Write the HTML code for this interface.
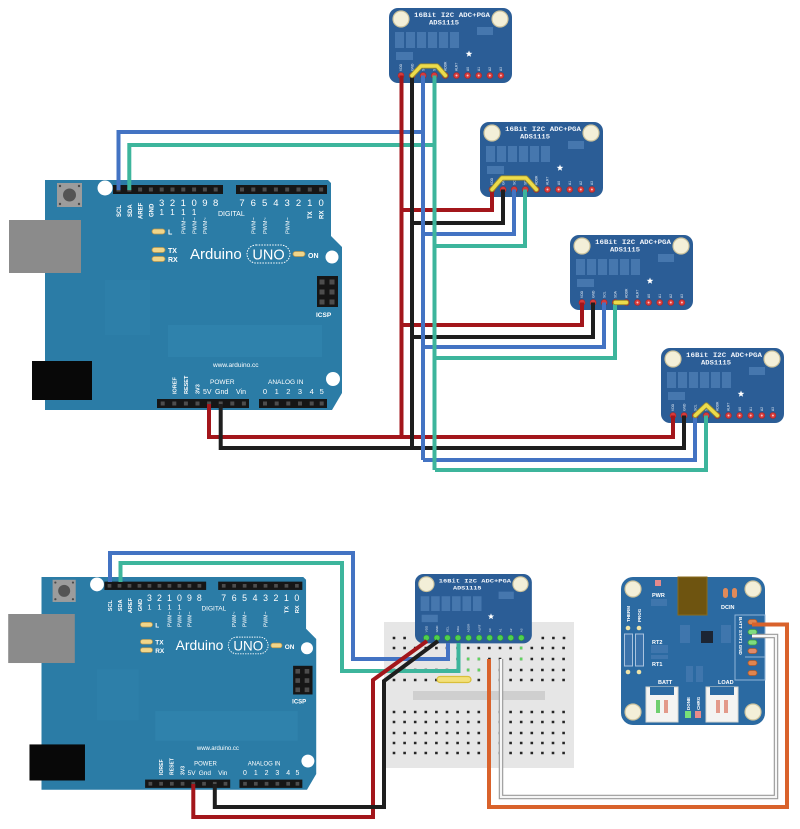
<!DOCTYPE html>
<html><head><meta charset="utf-8"><style>
html,body{margin:0;padding:0;background:#fff}
svg{display:block}
.t{font-family:"Liberation Sans",sans-serif;fill:#fff;font-weight:bold}
.m{font-family:"Liberation Mono",monospace;fill:#eef3fa;font-weight:bold}
.w{fill:none;stroke-width:4;stroke-linejoin:miter}
.r{stroke:#a3161b}.k{stroke:#1e1e1e}.b{stroke:#4373c3}.g{stroke:#3db59c}
</style></head><body>
<svg width="800" height="829" viewBox="0 0 800 829" xmlns="http://www.w3.org/2000/svg">
<rect width="800" height="829" fill="#fff"/>

<!-- ================= TOP ARDUINO ================= -->
<g>
<path d="M45,180H328L331,183V236L342,247V393L332,410H45Z" fill="#2b7ca6"/>
<rect x="168" y="325" width="154" height="32" fill="#2f82ac"/>
<rect x="105" y="280" width="45" height="55" fill="#2d7fa9"/>
<rect x="9" y="220" width="72" height="53" fill="#8b8b8b"/>
<rect x="32" y="361" width="60" height="39" fill="#080808"/>
<rect x="57" y="183" width="25" height="24" fill="#9c9c9c"/>
<circle cx="69.5" cy="195" r="6.5" fill="#545454"/>
<g fill="#4a4a4a"><circle cx="60" cy="186" r="1.2"/><circle cx="79" cy="186" r="1.2"/><circle cx="60" cy="204" r="1.2"/><circle cx="79" cy="204" r="1.2"/></g>
<g fill="#fff"><circle cx="105" cy="188" r="7.5"/><circle cx="332" cy="257" r="6.5"/><circle cx="333" cy="379" r="7"/></g>
<g fill="#161616"><rect x="113" y="185" width="110" height="9"/><rect x="236" y="185" width="91" height="9"/><rect x="157" y="399" width="92" height="9"/><rect x="259" y="399" width="68" height="9"/><rect x="317" y="276" width="21" height="31"/></g>
<path fill="#4d4d4d" d="M116.5,187.5h4v4h-4zM127.3,187.5h4v4h-4zM138.1,187.5h4v4h-4zM148.9,187.5h4v4h-4zM159.7,187.5h4v4h-4zM170.5,187.5h4v4h-4zM181.3,187.5h4v4h-4zM192.1,187.5h4v4h-4zM202.9,187.5h4v4h-4zM213.7,187.5h4v4h-4z
M240,187.5h4v4h-4zM251.3,187.5h4v4h-4zM262.6,187.5h4v4h-4zM273.9,187.5h4v4h-4zM285.2,187.5h4v4h-4zM296.5,187.5h4v4h-4zM307.8,187.5h4v4h-4zM319.1,187.5h4v4h-4z
M160.7,401.5h4v4h-4zM172.3,401.5h4v4h-4zM183.9,401.5h4v4h-4zM195.5,401.5h4v4h-4zM207.1,401.5h4v4h-4zM218.7,401.5h4v4h-4zM230.3,401.5h4v4h-4zM241.9,401.5h4v4h-4z
M263,401.5h4v4h-4zM274.7,401.5h4v4h-4zM286.3,401.5h4v4h-4zM298,401.5h4v4h-4zM309.7,401.5h4v4h-4zM319.7,401.5h4v4h-4z
M319.5,279.5h5v5h-5zM329.5,279.5h5v5h-5zM319.5,289.5h5v5h-5zM329.5,289.5h5v5h-5zM319.5,299.5h5v5h-5zM329.5,299.5h5v5h-5z"/>
<g class="t">
<text font-size="6" transform="translate(121,217) rotate(-90)">SCL</text>
<text font-size="6" transform="translate(131.8,217) rotate(-90)">SDA</text>
<text font-size="6" transform="translate(142.6,219) rotate(-90)">AREF</text>
<text font-size="6" transform="translate(153.4,217) rotate(-90)">GND</text>
<g font-size="9.5" text-anchor="middle" font-weight="normal"><text x="161.7" y="206">3</text><text x="172.5" y="206">2</text><text x="183.3" y="206">1</text><text x="194.1" y="206">0</text><text x="204.9" y="206">9</text><text x="215.7" y="206">8</text>
<text x="242" y="206">7</text><text x="253.3" y="206">6</text><text x="264.6" y="206">5</text><text x="275.9" y="206">4</text><text x="287.2" y="206">3</text><text x="298.5" y="206">2</text><text x="309.8" y="206">1</text><text x="321.1" y="206">0</text></g>
<g font-size="8" text-anchor="middle" font-weight="normal"><text x="161.7" y="215">1</text><text x="172.5" y="215">1</text><text x="183.3" y="215">1</text><text x="194.1" y="215">1</text></g>
<text x="218" y="216" font-size="7" font-weight="normal">DIGITAL</text>
<text font-size="6" transform="translate(312,219) rotate(-90)">TX</text>
<text font-size="6" transform="translate(323.4,219) rotate(-90)">RX</text>
<g font-size="5.5" font-weight="normal"><text transform="translate(185.5,234) rotate(-90)">PWM~</text><text transform="translate(196.3,234) rotate(-90)">PWM~</text><text transform="translate(207.1,234) rotate(-90)">PWM~</text><text transform="translate(255.5,234) rotate(-90)">PWM~</text><text transform="translate(266.8,234) rotate(-90)">PWM~</text><text transform="translate(289.4,234) rotate(-90)">PWM~</text></g>
<text x="168" y="234.5" font-size="7">L</text>
<text x="168" y="253" font-size="7">TX</text>
<text x="168" y="262" font-size="7">RX</text>
<text x="190" y="259" font-size="15" font-weight="normal">Arduino</text>
<text x="268.5" y="259.5" font-size="14.5" font-weight="normal" text-anchor="middle">UNO</text>
<text x="308" y="258" font-size="7">ON</text>
<text x="316" y="317" font-size="6.5">ICSP</text>
<text x="213" y="367" font-size="6.5" font-weight="normal">www.arduino.cc</text>
<text font-size="5.5" transform="translate(176.3,394) rotate(-90)">IOREF</text>
<text font-size="5.5" transform="translate(187.9,394) rotate(-90)">RESET</text>
<text font-size="5.5" transform="translate(199.5,394) rotate(-90)">3V3</text>
<text x="210" y="384" font-size="6.5" font-weight="normal">POWER</text>
<text x="203" y="394" font-size="7" font-weight="normal">5V</text>
<text x="215" y="394" font-size="7" font-weight="normal">Gnd</text>
<text x="236" y="394" font-size="7" font-weight="normal">Vin</text>
<text x="268" y="384" font-size="6.5" font-weight="normal">ANALOG IN</text>
<g font-size="7.5" text-anchor="middle" font-weight="normal"><text x="265" y="394">0</text><text x="276.7" y="394">1</text><text x="288.3" y="394">2</text><text x="300" y="394">3</text><text x="311.7" y="394">4</text><text x="321.7" y="394">5</text></g>
</g>
<rect x="247" y="245" width="43" height="18" rx="9" fill="none" stroke="#fff" stroke-width="1" stroke-dasharray="1.5 1.2"/>
<g fill="#f1d68a" stroke="#b8964e" stroke-width="0.8"><rect x="152" y="229" width="13" height="5" rx="2.5"/><rect x="152" y="247.5" width="13" height="5" rx="2.5"/><rect x="152" y="256.5" width="13" height="5" rx="2.5"/><rect x="293" y="251.5" width="12" height="5" rx="2.5"/></g>
</g>

<!-- ================= BOTTOM ARDUINO ================= -->
<g transform="translate(41.5,577) scale(0.925) translate(-45,-180)">
<path d="M45,180H328L331,183V236L342,247V393L332,410H45Z" fill="#2b7ca6"/>
<rect x="168" y="325" width="154" height="32" fill="#2f82ac"/>
<rect x="105" y="280" width="45" height="55" fill="#2d7fa9"/>
<rect x="9" y="220" width="72" height="53" fill="#8b8b8b"/>
<rect x="32" y="361" width="60" height="39" fill="#080808"/>
<rect x="57" y="183" width="25" height="24" fill="#9c9c9c"/>
<circle cx="69.5" cy="195" r="6.5" fill="#545454"/>
<g fill="#4a4a4a"><circle cx="60" cy="186" r="1.2"/><circle cx="79" cy="186" r="1.2"/><circle cx="60" cy="204" r="1.2"/><circle cx="79" cy="204" r="1.2"/></g>
<g fill="#fff"><circle cx="105" cy="188" r="7.5"/><circle cx="332" cy="257" r="6.5"/><circle cx="333" cy="379" r="7"/></g>
<g fill="#161616"><rect x="113" y="185" width="110" height="9"/><rect x="236" y="185" width="91" height="9"/><rect x="157" y="399" width="92" height="9"/><rect x="259" y="399" width="68" height="9"/><rect x="317" y="276" width="21" height="31"/></g>
<path fill="#4d4d4d" d="M116.5,187.5h4v4h-4zM127.3,187.5h4v4h-4zM138.1,187.5h4v4h-4zM148.9,187.5h4v4h-4zM159.7,187.5h4v4h-4zM170.5,187.5h4v4h-4zM181.3,187.5h4v4h-4zM192.1,187.5h4v4h-4zM202.9,187.5h4v4h-4zM213.7,187.5h4v4h-4z
M240,187.5h4v4h-4zM251.3,187.5h4v4h-4zM262.6,187.5h4v4h-4zM273.9,187.5h4v4h-4zM285.2,187.5h4v4h-4zM296.5,187.5h4v4h-4zM307.8,187.5h4v4h-4zM319.1,187.5h4v4h-4z
M160.7,401.5h4v4h-4zM172.3,401.5h4v4h-4zM183.9,401.5h4v4h-4zM195.5,401.5h4v4h-4zM207.1,401.5h4v4h-4zM218.7,401.5h4v4h-4zM230.3,401.5h4v4h-4zM241.9,401.5h4v4h-4z
M263,401.5h4v4h-4zM274.7,401.5h4v4h-4zM286.3,401.5h4v4h-4zM298,401.5h4v4h-4zM309.7,401.5h4v4h-4zM319.7,401.5h4v4h-4z
M319.5,279.5h5v5h-5zM329.5,279.5h5v5h-5zM319.5,289.5h5v5h-5zM329.5,289.5h5v5h-5zM319.5,299.5h5v5h-5zM329.5,299.5h5v5h-5z"/>
<g class="t">
<text font-size="6" transform="translate(121,217) rotate(-90)">SCL</text>
<text font-size="6" transform="translate(131.8,217) rotate(-90)">SDA</text>
<text font-size="6" transform="translate(142.6,219) rotate(-90)">AREF</text>
<text font-size="6" transform="translate(153.4,217) rotate(-90)">GND</text>
<g font-size="9.5" text-anchor="middle" font-weight="normal"><text x="161.7" y="206">3</text><text x="172.5" y="206">2</text><text x="183.3" y="206">1</text><text x="194.1" y="206">0</text><text x="204.9" y="206">9</text><text x="215.7" y="206">8</text>
<text x="242" y="206">7</text><text x="253.3" y="206">6</text><text x="264.6" y="206">5</text><text x="275.9" y="206">4</text><text x="287.2" y="206">3</text><text x="298.5" y="206">2</text><text x="309.8" y="206">1</text><text x="321.1" y="206">0</text></g>
<g font-size="8" text-anchor="middle" font-weight="normal"><text x="161.7" y="215">1</text><text x="172.5" y="215">1</text><text x="183.3" y="215">1</text><text x="194.1" y="215">1</text></g>
<text x="218" y="216" font-size="7" font-weight="normal">DIGITAL</text>
<text font-size="6" transform="translate(312,219) rotate(-90)">TX</text>
<text font-size="6" transform="translate(323.4,219) rotate(-90)">RX</text>
<g font-size="5.5" font-weight="normal"><text transform="translate(185.5,234) rotate(-90)">PWM~</text><text transform="translate(196.3,234) rotate(-90)">PWM~</text><text transform="translate(207.1,234) rotate(-90)">PWM~</text><text transform="translate(255.5,234) rotate(-90)">PWM~</text><text transform="translate(266.8,234) rotate(-90)">PWM~</text><text transform="translate(289.4,234) rotate(-90)">PWM~</text></g>
<text x="168" y="234.5" font-size="7">L</text>
<text x="168" y="253" font-size="7">TX</text>
<text x="168" y="262" font-size="7">RX</text>
<text x="190" y="259" font-size="15" font-weight="normal">Arduino</text>
<text x="268.5" y="259.5" font-size="14.5" font-weight="normal" text-anchor="middle">UNO</text>
<text x="308" y="258" font-size="7">ON</text>
<text x="316" y="317" font-size="6.5">ICSP</text>
<text x="213" y="367" font-size="6.5" font-weight="normal">www.arduino.cc</text>
<text font-size="5.5" transform="translate(176.3,394) rotate(-90)">IOREF</text>
<text font-size="5.5" transform="translate(187.9,394) rotate(-90)">RESET</text>
<text font-size="5.5" transform="translate(199.5,394) rotate(-90)">3V3</text>
<text x="210" y="384" font-size="6.5" font-weight="normal">POWER</text>
<text x="203" y="394" font-size="7" font-weight="normal">5V</text>
<text x="215" y="394" font-size="7" font-weight="normal">Gnd</text>
<text x="236" y="394" font-size="7" font-weight="normal">Vin</text>
<text x="268" y="384" font-size="6.5" font-weight="normal">ANALOG IN</text>
<g font-size="7.5" text-anchor="middle" font-weight="normal"><text x="265" y="394">0</text><text x="276.7" y="394">1</text><text x="288.3" y="394">2</text><text x="300" y="394">3</text><text x="311.7" y="394">4</text><text x="321.7" y="394">5</text></g>
</g>
<rect x="247" y="245" width="43" height="18" rx="9" fill="none" stroke="#fff" stroke-width="1" stroke-dasharray="1.5 1.2"/>
<g fill="#f1d68a" stroke="#b8964e" stroke-width="0.8"><rect x="152" y="229" width="13" height="5" rx="2.5"/><rect x="152" y="247.5" width="13" height="5" rx="2.5"/><rect x="152" y="256.5" width="13" height="5" rx="2.5"/><rect x="293" y="251.5" width="12" height="5" rx="2.5"/></g>
</g>

<!-- ================= ADS BOARDS (top) ================= -->
<g transform="translate(389,8)">
<rect width="123" height="75" rx="9" fill="#2b5d96"/>
<circle cx="12" cy="11" r="8" fill="#f3efd8" stroke="#cbc29c" stroke-width="1.2"/><circle cx="111" cy="11" r="8" fill="#f3efd8" stroke="#cbc29c" stroke-width="1.2"/>
<text x="25" y="9" class="m" font-size="6.2" textLength="76" lengthAdjust="spacingAndGlyphs">16Bit I2C ADC+PGA</text>
<text x="40" y="16.5" class="m" font-size="6.2" textLength="30" lengthAdjust="spacingAndGlyphs">ADS1115</text>
<path fill="#4677ae" d="M6,24h9v16h-9zM17,24h9v16h-9zM28,24h9v16h-9zM39,24h9v16h-9zM50,24h9v16h-9zM61,24h9v16h-9zM7,44h17v8h-17zM88,19h16v8h-16z"/>
<polygon fill="#fff" points="80,42.5 80.9,44.8 83.3,44.9 81.4,46.5 82.1,48.8 80,47.5 77.9,48.8 78.6,46.5 76.7,44.9 79.1,44.8"/>
<g fill="#dfe8f3" font-family="Liberation Sans,sans-serif" font-size="3.3"><text transform="translate(13.2,63) rotate(-90)">VDD</text><text transform="translate(24.3,63) rotate(-90)">GND</text><text transform="translate(35.4,63) rotate(-90)">SCL</text><text transform="translate(46.5,63) rotate(-90)">SDA</text><text transform="translate(57.6,63) rotate(-90)">ADDR</text><text transform="translate(68.7,63) rotate(-90)">ALRT</text><text transform="translate(79.8,63) rotate(-90)">A0</text><text transform="translate(90.9,63) rotate(-90)">A1</text><text transform="translate(102,63) rotate(-90)">A2</text><text transform="translate(113.1,63) rotate(-90)">A3</text></g>
<g fill="#d83b3b" stroke="#a82828" stroke-width="0.6"><circle cx="12" cy="67.5" r="3"/><circle cx="23.1" cy="67.5" r="3"/><circle cx="34.2" cy="67.5" r="3"/><circle cx="45.3" cy="67.5" r="3"/><circle cx="56.4" cy="67.5" r="3"/><circle cx="67.5" cy="67.5" r="3"/><circle cx="78.6" cy="67.5" r="3"/><circle cx="89.7" cy="67.5" r="3"/><circle cx="100.8" cy="67.5" r="3"/><circle cx="111.9" cy="67.5" r="3"/></g>
<g fill="#f7c7c7"><circle cx="67.5" cy="67.5" r="1"/><circle cx="78.6" cy="67.5" r="1"/><circle cx="89.7" cy="67.5" r="1"/><circle cx="100.8" cy="67.5" r="1"/><circle cx="111.9" cy="67.5" r="1"/></g>
</g>

<g transform="translate(480,122)">
<rect width="123" height="75" rx="9" fill="#2b5d96"/>
<circle cx="12" cy="11" r="8" fill="#f3efd8" stroke="#cbc29c" stroke-width="1.2"/><circle cx="111" cy="11" r="8" fill="#f3efd8" stroke="#cbc29c" stroke-width="1.2"/>
<text x="25" y="9" class="m" font-size="6.2" textLength="76" lengthAdjust="spacingAndGlyphs">16Bit I2C ADC+PGA</text>
<text x="40" y="16.5" class="m" font-size="6.2" textLength="30" lengthAdjust="spacingAndGlyphs">ADS1115</text>
<path fill="#4677ae" d="M6,24h9v16h-9zM17,24h9v16h-9zM28,24h9v16h-9zM39,24h9v16h-9zM50,24h9v16h-9zM61,24h9v16h-9zM7,44h17v8h-17zM88,19h16v8h-16z"/>
<polygon fill="#fff" points="80,42.5 80.9,44.8 83.3,44.9 81.4,46.5 82.1,48.8 80,47.5 77.9,48.8 78.6,46.5 76.7,44.9 79.1,44.8"/>
<g fill="#dfe8f3" font-family="Liberation Sans,sans-serif" font-size="3.3"><text transform="translate(13.2,63) rotate(-90)">VDD</text><text transform="translate(24.3,63) rotate(-90)">GND</text><text transform="translate(35.4,63) rotate(-90)">SCL</text><text transform="translate(46.5,63) rotate(-90)">SDA</text><text transform="translate(57.6,63) rotate(-90)">ADDR</text><text transform="translate(68.7,63) rotate(-90)">ALRT</text><text transform="translate(79.8,63) rotate(-90)">A0</text><text transform="translate(90.9,63) rotate(-90)">A1</text><text transform="translate(102,63) rotate(-90)">A2</text><text transform="translate(113.1,63) rotate(-90)">A3</text></g>
<g fill="#d83b3b" stroke="#a82828" stroke-width="0.6"><circle cx="12" cy="67.5" r="3"/><circle cx="23.1" cy="67.5" r="3"/><circle cx="34.2" cy="67.5" r="3"/><circle cx="45.3" cy="67.5" r="3"/><circle cx="56.4" cy="67.5" r="3"/><circle cx="67.5" cy="67.5" r="3"/><circle cx="78.6" cy="67.5" r="3"/><circle cx="89.7" cy="67.5" r="3"/><circle cx="100.8" cy="67.5" r="3"/><circle cx="111.9" cy="67.5" r="3"/></g>
<g fill="#f7c7c7"><circle cx="67.5" cy="67.5" r="1"/><circle cx="78.6" cy="67.5" r="1"/><circle cx="89.7" cy="67.5" r="1"/><circle cx="100.8" cy="67.5" r="1"/><circle cx="111.9" cy="67.5" r="1"/></g>
</g>

<g transform="translate(570,235)">
<rect width="123" height="75" rx="9" fill="#2b5d96"/>
<circle cx="12" cy="11" r="8" fill="#f3efd8" stroke="#cbc29c" stroke-width="1.2"/><circle cx="111" cy="11" r="8" fill="#f3efd8" stroke="#cbc29c" stroke-width="1.2"/>
<text x="25" y="9" class="m" font-size="6.2" textLength="76" lengthAdjust="spacingAndGlyphs">16Bit I2C ADC+PGA</text>
<text x="40" y="16.5" class="m" font-size="6.2" textLength="30" lengthAdjust="spacingAndGlyphs">ADS1115</text>
<path fill="#4677ae" d="M6,24h9v16h-9zM17,24h9v16h-9zM28,24h9v16h-9zM39,24h9v16h-9zM50,24h9v16h-9zM61,24h9v16h-9zM7,44h17v8h-17zM88,19h16v8h-16z"/>
<polygon fill="#fff" points="80,42.5 80.9,44.8 83.3,44.9 81.4,46.5 82.1,48.8 80,47.5 77.9,48.8 78.6,46.5 76.7,44.9 79.1,44.8"/>
<g fill="#dfe8f3" font-family="Liberation Sans,sans-serif" font-size="3.3"><text transform="translate(13.2,63) rotate(-90)">VDD</text><text transform="translate(24.3,63) rotate(-90)">GND</text><text transform="translate(35.4,63) rotate(-90)">SCL</text><text transform="translate(46.5,63) rotate(-90)">SDA</text><text transform="translate(57.6,63) rotate(-90)">ADDR</text><text transform="translate(68.7,63) rotate(-90)">ALRT</text><text transform="translate(79.8,63) rotate(-90)">A0</text><text transform="translate(90.9,63) rotate(-90)">A1</text><text transform="translate(102,63) rotate(-90)">A2</text><text transform="translate(113.1,63) rotate(-90)">A3</text></g>
<g fill="#d83b3b" stroke="#a82828" stroke-width="0.6"><circle cx="12" cy="67.5" r="3"/><circle cx="23.1" cy="67.5" r="3"/><circle cx="34.2" cy="67.5" r="3"/><circle cx="45.3" cy="67.5" r="3"/><circle cx="56.4" cy="67.5" r="3"/><circle cx="67.5" cy="67.5" r="3"/><circle cx="78.6" cy="67.5" r="3"/><circle cx="89.7" cy="67.5" r="3"/><circle cx="100.8" cy="67.5" r="3"/><circle cx="111.9" cy="67.5" r="3"/></g>
<g fill="#f7c7c7"><circle cx="67.5" cy="67.5" r="1"/><circle cx="78.6" cy="67.5" r="1"/><circle cx="89.7" cy="67.5" r="1"/><circle cx="100.8" cy="67.5" r="1"/><circle cx="111.9" cy="67.5" r="1"/></g>
</g>

<g transform="translate(661,348)">
<rect width="123" height="75" rx="9" fill="#2b5d96"/>
<circle cx="12" cy="11" r="8" fill="#f3efd8" stroke="#cbc29c" stroke-width="1.2"/><circle cx="111" cy="11" r="8" fill="#f3efd8" stroke="#cbc29c" stroke-width="1.2"/>
<text x="25" y="9" class="m" font-size="6.2" textLength="76" lengthAdjust="spacingAndGlyphs">16Bit I2C ADC+PGA</text>
<text x="40" y="16.5" class="m" font-size="6.2" textLength="30" lengthAdjust="spacingAndGlyphs">ADS1115</text>
<path fill="#4677ae" d="M6,24h9v16h-9zM17,24h9v16h-9zM28,24h9v16h-9zM39,24h9v16h-9zM50,24h9v16h-9zM61,24h9v16h-9zM7,44h17v8h-17zM88,19h16v8h-16z"/>
<polygon fill="#fff" points="80,42.5 80.9,44.8 83.3,44.9 81.4,46.5 82.1,48.8 80,47.5 77.9,48.8 78.6,46.5 76.7,44.9 79.1,44.8"/>
<g fill="#dfe8f3" font-family="Liberation Sans,sans-serif" font-size="3.3"><text transform="translate(13.2,63) rotate(-90)">VDD</text><text transform="translate(24.3,63) rotate(-90)">GND</text><text transform="translate(35.4,63) rotate(-90)">SCL</text><text transform="translate(46.5,63) rotate(-90)">SDA</text><text transform="translate(57.6,63) rotate(-90)">ADDR</text><text transform="translate(68.7,63) rotate(-90)">ALRT</text><text transform="translate(79.8,63) rotate(-90)">A0</text><text transform="translate(90.9,63) rotate(-90)">A1</text><text transform="translate(102,63) rotate(-90)">A2</text><text transform="translate(113.1,63) rotate(-90)">A3</text></g>
<g fill="#d83b3b" stroke="#a82828" stroke-width="0.6"><circle cx="12" cy="67.5" r="3"/><circle cx="23.1" cy="67.5" r="3"/><circle cx="34.2" cy="67.5" r="3"/><circle cx="45.3" cy="67.5" r="3"/><circle cx="56.4" cy="67.5" r="3"/><circle cx="67.5" cy="67.5" r="3"/><circle cx="78.6" cy="67.5" r="3"/><circle cx="89.7" cy="67.5" r="3"/><circle cx="100.8" cy="67.5" r="3"/><circle cx="111.9" cy="67.5" r="3"/></g>
<g fill="#f7c7c7"><circle cx="67.5" cy="67.5" r="1"/><circle cx="78.6" cy="67.5" r="1"/><circle cx="89.7" cy="67.5" r="1"/><circle cx="100.8" cy="67.5" r="1"/><circle cx="111.9" cy="67.5" r="1"/></g>
</g>

<!-- ================= TOP WIRES ================= -->
<g>
<path class="w r" d="M402,210H492V189.5"/>
<path class="w k" d="M412,223H503V189.5"/>
<path class="w b" d="M423,234H514V189.5"/>
<path class="w g" d="M435,246H525V189.5"/>
<path class="w r" d="M402,325H582V302.5"/>
<path class="w k" d="M412,337H593V302.5"/>
<path class="w b" d="M423,347H604V302.5"/>
<path class="w g" d="M435,358H615V302.5"/>
<path class="w r" d="M209,404V437H673V415.5"/>
<path class="w k" d="M220.7,404V448H684V415.5"/>
<path class="w b" d="M423,460H695V415.5"/>
<path class="w g" d="M435,470H706V415.5"/>
<path class="w b" d="M118.5,190V132H423"/>
<path class="w g" d="M129.3,190V145H435"/>
<path class="w r" d="M401.5,75.5V437"/>
<path class="w k" d="M412,75.5V448"/>
<path class="w b" d="M423,75.5V460"/>
<path class="w g" d="M434.5,75.5V470"/>
</g>
<!-- jumpers -->
<g fill="none" stroke-linejoin="round" stroke-linecap="round">
<g stroke="#9a8a2a" stroke-width="5.2">
<polyline points="412,75.5 421,66 437,66 445.4,75.5"/>
<polyline points="492,189.5 502,178 526,178 536.4,189.5"/>
<line x1="615.3" y1="302.5" x2="626.4" y2="302.5"/>
<polyline points="695.2,415.5 706.3,405 717.4,415.5"/>
</g>
<g stroke="#ecdc4c" stroke-width="3.4">
<polyline points="412,75.5 421,66 437,66 445.4,75.5"/>
<polyline points="492,189.5 502,178 526,178 536.4,189.5"/>
<line x1="615.3" y1="302.5" x2="626.4" y2="302.5"/>
<polyline points="695.2,415.5 706.3,405 717.4,415.5"/>
</g>
</g>

<!-- ================= BREADBOARD ================= -->
<rect x="384" y="622" width="190" height="146" fill="#e6e6e6"/>
<rect x="413" y="691" width="132" height="9" fill="#cfcfcf"/>
<g fill="#222">
<path d="M392.7,636.7h2.6v2.6h-2.6zM403.3,636.7h2.6v2.6h-2.6zM541.5,636.7h2.6v2.6h-2.6zM552.1,636.7h2.6v2.6h-2.6zM562.7,636.7h2.6v2.6h-2.6z"/>
</g>
<g fill="#252525">
<path d="M392.7,646.7h2.6v2.6h-2.6zM403.3,646.7h2.6v2.6h-2.6zM413.9,646.7h2.6v2.6h-2.6zM424.5,646.7h2.6v2.6h-2.6zM435.1,646.7h2.6v2.6h-2.6zM445.7,646.7h2.6v2.6h-2.6zM456.3,646.7h2.6v2.6h-2.6zM466.9,646.7h2.6v2.6h-2.6zM477.5,646.7h2.6v2.6h-2.6zM488.1,646.7h2.6v2.6h-2.6zM498.7,646.7h2.6v2.6h-2.6zM509.3,646.7h2.6v2.6h-2.6zM519.9,646.7h2.6v2.6h-2.6zM530.5,646.7h2.6v2.6h-2.6zM541.1,646.7h2.6v2.6h-2.6zM551.7,646.7h2.6v2.6h-2.6zM562.3,646.7h2.6v2.6h-2.6z"/>
<path d="M392.7,657.7h2.6v2.6h-2.6zM403.3,657.7h2.6v2.6h-2.6zM413.9,657.7h2.6v2.6h-2.6zM424.5,657.7h2.6v2.6h-2.6zM435.1,657.7h2.6v2.6h-2.6zM445.7,657.7h2.6v2.6h-2.6zM456.3,657.7h2.6v2.6h-2.6zM466.9,657.7h2.6v2.6h-2.6zM477.5,657.7h2.6v2.6h-2.6zM488.1,657.7h2.6v2.6h-2.6zM498.7,657.7h2.6v2.6h-2.6zM509.3,657.7h2.6v2.6h-2.6zM519.9,657.7h2.6v2.6h-2.6zM530.5,657.7h2.6v2.6h-2.6zM541.1,657.7h2.6v2.6h-2.6zM551.7,657.7h2.6v2.6h-2.6zM562.3,657.7h2.6v2.6h-2.6z"/>
<path d="M392.7,668.7h2.6v2.6h-2.6zM403.3,668.7h2.6v2.6h-2.6zM413.9,668.7h2.6v2.6h-2.6zM424.5,668.7h2.6v2.6h-2.6zM435.1,668.7h2.6v2.6h-2.6zM445.7,668.7h2.6v2.6h-2.6zM456.3,668.7h2.6v2.6h-2.6zM466.9,668.7h2.6v2.6h-2.6zM477.5,668.7h2.6v2.6h-2.6zM488.1,668.7h2.6v2.6h-2.6zM498.7,668.7h2.6v2.6h-2.6zM509.3,668.7h2.6v2.6h-2.6zM519.9,668.7h2.6v2.6h-2.6zM530.5,668.7h2.6v2.6h-2.6zM541.1,668.7h2.6v2.6h-2.6zM551.7,668.7h2.6v2.6h-2.6zM562.3,668.7h2.6v2.6h-2.6z"/>
<path d="M392.7,678.7h2.6v2.6h-2.6zM403.3,678.7h2.6v2.6h-2.6zM413.9,678.7h2.6v2.6h-2.6zM424.5,678.7h2.6v2.6h-2.6zM435.1,678.7h2.6v2.6h-2.6zM445.7,678.7h2.6v2.6h-2.6zM456.3,678.7h2.6v2.6h-2.6zM466.9,678.7h2.6v2.6h-2.6zM477.5,678.7h2.6v2.6h-2.6zM488.1,678.7h2.6v2.6h-2.6zM498.7,678.7h2.6v2.6h-2.6zM509.3,678.7h2.6v2.6h-2.6zM519.9,678.7h2.6v2.6h-2.6zM530.5,678.7h2.6v2.6h-2.6zM541.1,678.7h2.6v2.6h-2.6zM551.7,678.7h2.6v2.6h-2.6zM562.3,678.7h2.6v2.6h-2.6z"/>
<path d="M392.7,710.7h2.6v2.6h-2.6zM403.3,710.7h2.6v2.6h-2.6zM413.9,710.7h2.6v2.6h-2.6zM424.5,710.7h2.6v2.6h-2.6zM435.1,710.7h2.6v2.6h-2.6zM445.7,710.7h2.6v2.6h-2.6zM456.3,710.7h2.6v2.6h-2.6zM466.9,710.7h2.6v2.6h-2.6zM477.5,710.7h2.6v2.6h-2.6zM488.1,710.7h2.6v2.6h-2.6zM498.7,710.7h2.6v2.6h-2.6zM509.3,710.7h2.6v2.6h-2.6zM519.9,710.7h2.6v2.6h-2.6zM530.5,710.7h2.6v2.6h-2.6zM541.1,710.7h2.6v2.6h-2.6zM551.7,710.7h2.6v2.6h-2.6zM562.3,710.7h2.6v2.6h-2.6z"/>
<path d="M392.7,720.7h2.6v2.6h-2.6zM403.3,720.7h2.6v2.6h-2.6zM413.9,720.7h2.6v2.6h-2.6zM424.5,720.7h2.6v2.6h-2.6zM435.1,720.7h2.6v2.6h-2.6zM445.7,720.7h2.6v2.6h-2.6zM456.3,720.7h2.6v2.6h-2.6zM466.9,720.7h2.6v2.6h-2.6zM477.5,720.7h2.6v2.6h-2.6zM488.1,720.7h2.6v2.6h-2.6zM498.7,720.7h2.6v2.6h-2.6zM509.3,720.7h2.6v2.6h-2.6zM519.9,720.7h2.6v2.6h-2.6zM530.5,720.7h2.6v2.6h-2.6zM541.1,720.7h2.6v2.6h-2.6zM551.7,720.7h2.6v2.6h-2.6zM562.3,720.7h2.6v2.6h-2.6z"/>
<path d="M392.7,731.7h2.6v2.6h-2.6zM403.3,731.7h2.6v2.6h-2.6zM413.9,731.7h2.6v2.6h-2.6zM424.5,731.7h2.6v2.6h-2.6zM435.1,731.7h2.6v2.6h-2.6zM445.7,731.7h2.6v2.6h-2.6zM456.3,731.7h2.6v2.6h-2.6zM466.9,731.7h2.6v2.6h-2.6zM477.5,731.7h2.6v2.6h-2.6zM488.1,731.7h2.6v2.6h-2.6zM498.7,731.7h2.6v2.6h-2.6zM509.3,731.7h2.6v2.6h-2.6zM519.9,731.7h2.6v2.6h-2.6zM530.5,731.7h2.6v2.6h-2.6zM541.1,731.7h2.6v2.6h-2.6zM551.7,731.7h2.6v2.6h-2.6zM562.3,731.7h2.6v2.6h-2.6z"/>
<path d="M392.7,741.7h2.6v2.6h-2.6zM403.3,741.7h2.6v2.6h-2.6zM413.9,741.7h2.6v2.6h-2.6zM424.5,741.7h2.6v2.6h-2.6zM435.1,741.7h2.6v2.6h-2.6zM445.7,741.7h2.6v2.6h-2.6zM456.3,741.7h2.6v2.6h-2.6zM466.9,741.7h2.6v2.6h-2.6zM477.5,741.7h2.6v2.6h-2.6zM488.1,741.7h2.6v2.6h-2.6zM498.7,741.7h2.6v2.6h-2.6zM509.3,741.7h2.6v2.6h-2.6zM519.9,741.7h2.6v2.6h-2.6zM530.5,741.7h2.6v2.6h-2.6zM541.1,741.7h2.6v2.6h-2.6zM551.7,741.7h2.6v2.6h-2.6zM562.3,741.7h2.6v2.6h-2.6z"/>
<path d="M392.7,751.7h2.6v2.6h-2.6zM403.3,751.7h2.6v2.6h-2.6zM413.9,751.7h2.6v2.6h-2.6zM424.5,751.7h2.6v2.6h-2.6zM435.1,751.7h2.6v2.6h-2.6zM445.7,751.7h2.6v2.6h-2.6zM456.3,751.7h2.6v2.6h-2.6zM466.9,751.7h2.6v2.6h-2.6zM477.5,751.7h2.6v2.6h-2.6zM488.1,751.7h2.6v2.6h-2.6zM498.7,751.7h2.6v2.6h-2.6zM509.3,751.7h2.6v2.6h-2.6zM519.9,751.7h2.6v2.6h-2.6zM530.5,751.7h2.6v2.6h-2.6zM541.1,751.7h2.6v2.6h-2.6zM551.7,751.7h2.6v2.6h-2.6zM562.3,751.7h2.6v2.6h-2.6z"/>
</g>
<g fill="#5fd35f"><rect x="466.9" y="657.7" width="2.6" height="2.6"/><rect x="477.5" y="657.7" width="2.6" height="2.6"/><rect x="466.9" y="668.7" width="2.6" height="2.6"/><rect x="477.5" y="668.7" width="2.6" height="2.6"/><rect x="519.9" y="646.7" width="2.6" height="2.6"/><rect x="519.9" y="657.7" width="2.6" height="2.6"/></g>
<rect x="437" y="676.5" width="34" height="6" rx="3" fill="#f3e07a" stroke="#d9bf3a" stroke-width="1.2"/>

<!-- bottom ADS -->
<g transform="translate(415,574) scale(0.95,0.925)">
<rect width="123" height="75" rx="9" fill="#2b5d96"/>
<circle cx="12" cy="11" r="8" fill="#f3efd8" stroke="#cbc29c" stroke-width="1.2"/><circle cx="111" cy="11" r="8" fill="#f3efd8" stroke="#cbc29c" stroke-width="1.2"/>
<text x="25" y="9" class="m" font-size="6.2" textLength="76" lengthAdjust="spacingAndGlyphs">16Bit I2C ADC+PGA</text>
<text x="40" y="16.5" class="m" font-size="6.2" textLength="30" lengthAdjust="spacingAndGlyphs">ADS1115</text>
<path fill="#4677ae" d="M6,24h9v16h-9zM17,24h9v16h-9zM28,24h9v16h-9zM39,24h9v16h-9zM50,24h9v16h-9zM61,24h9v16h-9zM7,44h17v8h-17zM88,19h16v8h-16z"/>
<polygon fill="#fff" points="80,42.5 80.9,44.8 83.3,44.9 81.4,46.5 82.1,48.8 80,47.5 77.9,48.8 78.6,46.5 76.7,44.9 79.1,44.8"/>
<g fill="#dfe8f3" font-family="Liberation Sans,sans-serif" font-size="3.3"><text transform="translate(13.2,63) rotate(-90)">VDD</text><text transform="translate(24.3,63) rotate(-90)">GND</text><text transform="translate(35.4,63) rotate(-90)">SCL</text><text transform="translate(46.5,63) rotate(-90)">SDA</text><text transform="translate(57.6,63) rotate(-90)">ADDR</text><text transform="translate(68.7,63) rotate(-90)">ALRT</text><text transform="translate(79.8,63) rotate(-90)">A0</text><text transform="translate(90.9,63) rotate(-90)">A1</text><text transform="translate(102,63) rotate(-90)">A2</text><text transform="translate(113.1,63) rotate(-90)">A3</text></g>
<g fill="#4fd04f" stroke="#2e9e2e" stroke-width="0.6"><circle cx="12" cy="69" r="3"/><circle cx="23.1" cy="69" r="3"/><circle cx="34.2" cy="69" r="3"/><circle cx="45.3" cy="69" r="3"/><circle cx="56.4" cy="69" r="3"/><circle cx="67.5" cy="69" r="3"/><circle cx="78.6" cy="69" r="3"/><circle cx="89.7" cy="69" r="3"/><circle cx="100.8" cy="69" r="3"/><circle cx="111.9" cy="69" r="3"/></g>
</g>

<!-- ================= CHARGER BOARD ================= -->
<g>
<rect x="621" y="577" width="144" height="148" rx="12" fill="#2b6aa2"/>
<g fill="#f3efd8" stroke="#cbc29c" stroke-width="1.2"><circle cx="633" cy="589" r="8"/><circle cx="753" cy="589" r="8"/><circle cx="633" cy="712" r="8"/><circle cx="753" cy="712" r="8"/></g>
<rect x="678" y="577" width="29" height="38" fill="#6e5410" stroke="#8a6a1a" stroke-width="1"/>
<rect x="655" y="580" width="6" height="6" fill="#e48a8c"/>
<g fill="#3f76ad"><rect x="651" y="599" width="16" height="7"/><rect x="680" y="625" width="10" height="18"/><rect x="721" y="625" width="10" height="18"/><rect x="651" y="645" width="17" height="8"/><rect x="651" y="655" width="17" height="4"/><rect x="686" y="666" width="7" height="16"/><rect x="696" y="666" width="7" height="16"/></g>
<g fill="#e08a5a"><rect x="723" y="588" width="5" height="10" rx="2.5"/><rect x="732" y="588" width="5" height="10" rx="2.5"/></g>
<rect x="701" y="631" width="12" height="12" fill="#1c2533"/>
<g fill="#eee3a8"><circle cx="628" cy="628" r="2.3"/><circle cx="639" cy="628" r="2.3"/><circle cx="628" cy="672" r="2.3"/><circle cx="639" cy="672" r="2.3"/></g>
<g fill="#3b72aa" stroke="#a9c3df" stroke-width="1"><rect x="624.5" y="634" width="8" height="32"/><rect x="635.5" y="634" width="8" height="32"/></g>
<rect x="735" y="615" width="30" height="65" fill="none" stroke="#8fb4d8" stroke-width="1"/>
<line x1="745" y1="657" x2="765" y2="657" stroke="#8fb4d8" stroke-width="1"/>
<g stroke-width="0.8"><rect x="748" y="619.5" width="9" height="5" rx="2.5" fill="#e0854f" stroke="#b05a2a"/><rect x="748" y="629.5" width="9" height="5" rx="2.5" fill="#7fdc7f" stroke="#3e9e3e"/><rect x="748" y="640" width="9" height="5" rx="2.5" fill="#7fdc7f" stroke="#3e9e3e"/><rect x="748" y="648.5" width="9" height="5" rx="2.5" fill="#e08a6a" stroke="#b05a2a"/><rect x="748" y="660.5" width="9" height="5" rx="2.5" fill="#e0854f" stroke="#b05a2a"/><rect x="748" y="670.5" width="9" height="5" rx="2.5" fill="#e0854f" stroke="#b05a2a"/></g>
<g class="t" font-size="5.5">
<text x="652" y="597">PWR</text>
<text x="721" y="609">DCIN</text>
<text x="652" y="644">RT2</text>
<text x="652" y="666">RT1</text>
<text x="658" y="684">BATT</text>
<text x="718" y="684">LOAD</text>
<text font-size="4.5" transform="translate(630,622) rotate(-90)">THERM</text>
<text font-size="4.5" transform="translate(641,622) rotate(-90)">PROG</text>
<text font-size="4.5" transform="translate(690,710) rotate(-90)">DONE</text>
<text font-size="4.5" transform="translate(700,710) rotate(-90)">CHRG</text>
<text font-size="4.5" transform="translate(739,617) rotate(90)">BATT STAT1 GND</text>
</g>
<g fill="#f4f4f2" stroke="#d6d6d0" stroke-width="1"><rect x="646" y="687" width="32" height="35"/><rect x="706" y="687" width="32" height="35"/></g>
<g fill="#2b6aa2"><rect x="650" y="687" width="24" height="8"/><rect x="710" y="687" width="24" height="8"/></g>
<g fill="#6fcf6f"><rect x="656" y="700" width="4" height="13"/></g>
<g fill="#e39a8a"><rect x="664" y="700" width="4" height="13"/><rect x="716" y="700" width="4" height="13"/><rect x="724" y="700" width="4" height="13"/></g>
<rect x="685" y="711" width="6" height="7" fill="#78e078"/>
<rect x="695" y="711" width="6" height="7" fill="#e88a8a"/>
</g>

<!-- ================= BOTTOM WIRES ================= -->
<path class="w b" d="M110,582V553H353V659H448V643"/>
<path class="w g" d="M120.5,582V563H342V671H458.5V643"/>
<path class="w r" d="M193.3,784V817H373V680L427,641"/>
<path class="w k" d="M214.8,784V807H384V681L438,641"/>
<path fill="none" stroke="#9a9a9a" stroke-width="4.5" d="M501,659V797H776V636H752"/>
<path fill="none" stroke="#f6f6f6" stroke-width="2.2" d="M501,659V797H776V636H752"/>
<path fill="none" stroke="#d9622b" stroke-width="4" d="M489,659V807H787V624.5H752"/>
</svg>
</body></html>
